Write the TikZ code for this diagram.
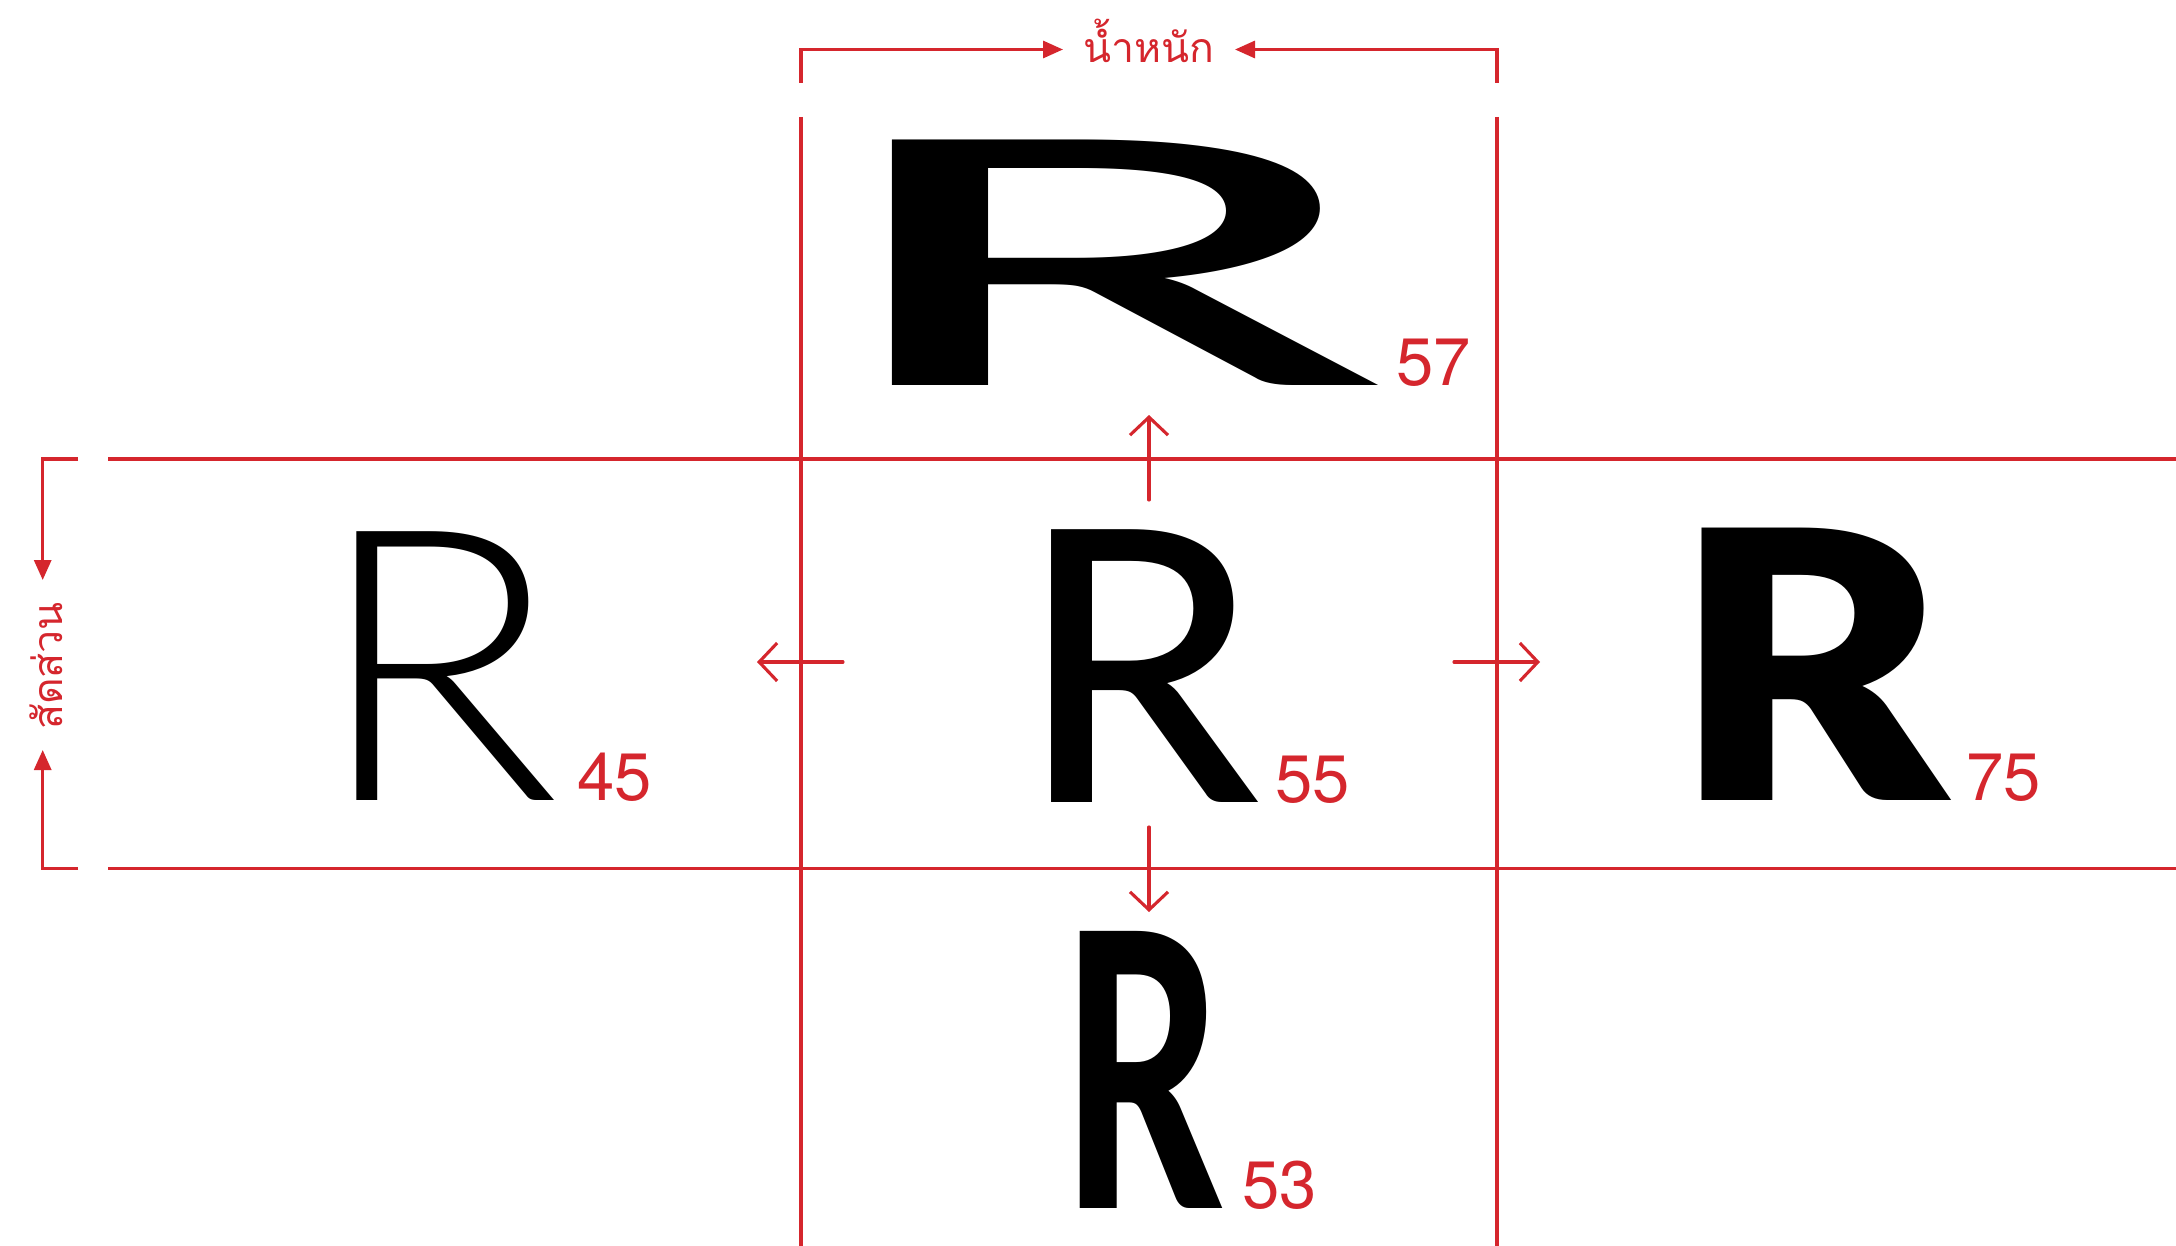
\documentclass[tikz,border=0pt]{standalone}
\usepackage{fontspec}
\usepackage{graphicx}
\usetikzlibrary{arrows.meta}
\newfontfamily\thai[Script=Thai]{Loma}
\newfontfamily\heros{TeX Gyre Heros}
\newfontfamily\latoL{Lato Light}
\newfontfamily\latoM{Lato Medium}
\newfontfamily\latoH{Lato Heavy}
\newfontfamily\latoK{Lato Black}
\definecolor{rred}{RGB}{213,38,45}
\begin{document}
\begin{tikzpicture}[x=1pt,y=-1pt,
  gl/.style={draw=rred,line width=3.1pt},
  tri/.style={-{Triangle[length=20pt,width=17pt]}},
  barb/.style={-{Straight Barb[length=18pt,width=38pt]},line cap=round},
  num/.style={text=rred,inner sep=0pt,outer sep=0pt,anchor=base west,font=\heros\fontsize{67}{67}\selectfont},
  lbl/.style={text=rred,inner sep=0pt,anchor=base,font=\thai\fontsize{41}{41}\selectfont},
  glyph/.style={inner sep=0pt,outer sep=0pt,anchor=base west}]
\useasboundingbox[fill=white] (0,0) rectangle (2176,1246);
% grid
\coordinate (h1a) at (108,459); \coordinate (h1b) at (2176,459);
\coordinate (h2a) at (108,868.5); \coordinate (h2b) at (2176,868.5);
\coordinate (v1a) at (801,117); \coordinate (v1b) at (801,1246);
\coordinate (v2a) at (1497,117); \coordinate (v2b) at (1497,1246);
\draw[gl] (h1a) -- (h1b);
\draw[gl] (h2a) -- (h2b);
\draw[gl] (v1a) -- (v1b);
\draw[gl] (v2a) -- (v2b);
% top bracket
\node[lbl] (wt) at (1148.5,63) {น้ำหนัก};
\coordinate (tb1) at (801,83); \coordinate (tb1c) at (801,49.5); \coordinate (tb1t) at (1063,49.5);
\coordinate (tb2) at (1497,83); \coordinate (tb2c) at (1497,49.5); \coordinate (tb2t) at (1235,49.5);
\draw[gl,tri] (tb1) -- (tb1c) -- (tb1t);
\draw[gl,tri] (tb2) -- (tb2c) -- (tb2t);
% left bracket
\node[lbl,rotate=90] (pr) at (62,666) {สัดส่วน};
\coordinate (lb1) at (78,459); \coordinate (lb1c) at (42.7,459); \coordinate (lb1t) at (42.7,580);
\coordinate (lb2) at (78,868.5); \coordinate (lb2c) at (42.7,868.5); \coordinate (lb2t) at (42.7,750);
\draw[gl,tri] (lb1) -- (lb1c) -- (lb1t);
\draw[gl,tri] (lb2) -- (lb2c) -- (lb2t);
% centre arrows
\coordinate (ua) at (1149,500); \coordinate (ub) at (1149,415);
\coordinate (da) at (1149,827); \coordinate (db) at (1149,912);
\coordinate (la) at (843,662); \coordinate (lbb) at (757,662);
\coordinate (ra) at (1454,662); \coordinate (rb) at (1540,662);
\draw[gl,barb] (ua) -- (ub);
\draw[gl,barb] (da) -- (db);
\draw[gl,barb] (la) -- (lbb);
\draw[gl,barb] (ra) -- (rb);
% letters
\node[glyph,font=\latoL\fontsize{380}{380}\selectfont] (r45) at (314,800) {\scalebox{1.066}[1]{R}};
\node[glyph,font=\latoM\fontsize{380}{380}\selectfont] (r55) at (1017,802) {\scalebox{1.012}[1]{R}};
\node[glyph,font=\latoK\fontsize{374}{374}\selectfont] (r75) at (1672,800) {\scalebox{1.12}[1]{R}};
\node[glyph,font=\latoM\fontsize{342}{342}\selectfont] (r57) at (812,385) {\scalebox{2.64}[1]{R}};
\node[glyph,font=\latoH\fontsize{382}{382}\selectfont] (r53) at (1061,1208) {\scalebox{0.645}[1]{R}};
% numbers
\node[num] (n45) at (577,800) {45};
\node[num] (n55) at (1275,802) {55};
\node[num] (n75) at (1966,800) {75};
\node[num] (n57) at (1396,385) {57};
\node[num] (n53) at (1242,1208) {53};
\end{tikzpicture}
\end{document}
